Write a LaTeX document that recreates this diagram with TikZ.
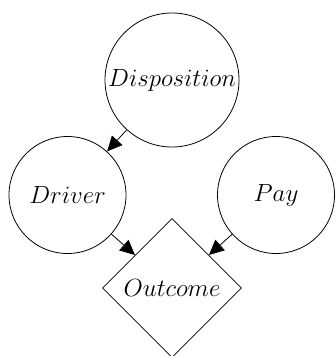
\documentclass[tikz,border=0pt]{standalone}
\usetikzlibrary{shapes.geometric,arrows.meta}
\begin{document}
\begin{tikzpicture}[x=1pt,y=1pt,
  every node/.style={font=\fontsize{24}{29}\selectfont, inner sep=0pt},
  var/.style={circle, draw, line width=0.8pt},
  util/.style={diamond, draw, aspect=1, minimum size=139pt, line width=0.8pt},
  conn/.style={line width=0.8pt, -{Triangle[length=15pt,width=14pt]}}]
\useasboundingbox (0,0) rectangle (335,-356);
\node[var, minimum size=134pt] (disp) at (172,-80) {$Disposition$};
\node[var, minimum size=117pt] (drv) at (67.5,-195) {$Driver$};
\node[var, minimum size=117pt] (pay) at (276,-195) {$Pay$};
\node[util] (out) at (172,-288) {$Outcome$};
\draw[conn] (disp) -- (drv);
\draw[conn] (drv) -- (out);
\draw[conn] (pay) -- (out);
\end{tikzpicture}
\end{document}
